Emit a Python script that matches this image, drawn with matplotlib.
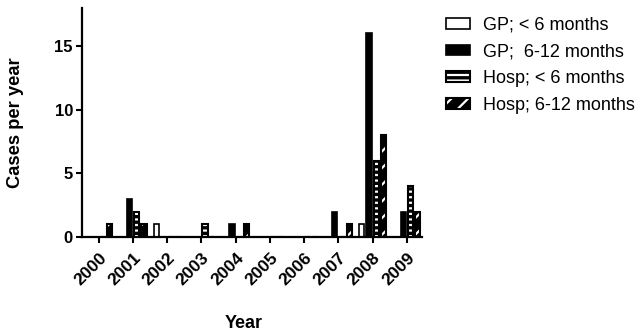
import matplotlib
matplotlib.use("Agg")
import matplotlib.pyplot as plt
import numpy as np
from matplotlib.patches import Patch
from matplotlib.legend_handler import HandlerTuple

plt.rcParams['font.family'] = ['Liberation Sans', 'DejaVu Sans']
plt.rcParams['hatch.linewidth'] = 1.6

years = ['2000', '2001', '2002', '2003', '2004', '2005', '2006', '2007', '2008', '2009']
series_names = ['GP; < 6 months', 'GP;  6-12 months', 'Hosp; < 6 months', 'Hosp; 6-12 months']
gp_lt6 = [0, 0, 1, 0, 0, 0, 0, 0, 1, 0]
gp_6_12 = [0, 3, 0, 0, 1, 0, 0, 2, 16, 2]
hosp_lt6 = [0, 2, 0, 1, 0, 0, 0, 0, 6, 4]
hosp_6_12 = [1, 1, 0, 0, 1, 0, 0, 1, 8, 2]
y_ticks = [0, 5, 10, 15]

series = [gp_lt6, gp_6_12, hosp_lt6, hosp_6_12]
styles = [
    dict(face='white', hatch=None),
    dict(face='black', hatch=None),
    dict(face='black', hatch='---'),
    dict(face='black', hatch='//'),
]

fig = plt.figure(figsize=(6.4, 3.35), dpi=100)
ax = fig.add_axes([82/640, 98/335, 340/640, 229/335])

x = np.arange(len(years))
step = 0.212
width = 0.155
handles = []
for k, (vals, st) in enumerate(zip(series, styles)):
    pos = x + (k - 1.5) * step
    if st['hatch']:
        ax.bar(pos, vals, width, color=st['face'], edgecolor='white', hatch=st['hatch'], linewidth=0, zorder=2)
        ax.bar(pos, vals, width, fill=False, edgecolor='black', linewidth=1.5, zorder=3)
        h = (Patch(facecolor=st['face'], edgecolor='white', hatch=st['hatch'], linewidth=0),
             Patch(fill=False, edgecolor='black', linewidth=1.5))
    else:
        ax.bar(pos, vals, width, color=st['face'], edgecolor='black', linewidth=1.2, zorder=2)
        h = Patch(facecolor=st['face'], edgecolor='black', linewidth=1.2)
    handles.append(h)

ax.set_xlim(-0.49, 9.44)
ax.set_ylim(0, 18)
ax.set_yticks(y_ticks)
ax.set_xticks(x)
ax.set_xticklabels(years, rotation=45, ha='right', rotation_mode='anchor', fontweight='bold', fontsize=12.5)
for lab in ax.get_yticklabels():
    lab.set_fontweight('bold')
    lab.set_fontsize(12)

for s in ['top', 'right']:
    ax.spines[s].set_visible(False)
for s in ['left', 'bottom']:
    ax.spines[s].set_linewidth(1.6)
ax.tick_params(axis='both', direction='out', length=4.5, width=1.5, pad=2)
ax.tick_params(axis='x', pad=5)

ax.set_ylabel('Cases per year', fontsize=13.2, fontweight='bold', va='center')
ax.yaxis.set_label_coords(-0.196, 0.5)
ax.set_xlabel('Year', fontsize=13, fontweight='bold', va='center')
ax.xaxis.set_label_coords(0.474, -0.376)

fig.legend(handles, series_names, loc='upper left', bbox_to_anchor=(446/640, 1 - 17/335),
           frameon=False, fontsize=13, handlelength=1.33, handleheight=0.52,
           handletextpad=0.7, labelspacing=0.53, borderaxespad=0, borderpad=0,
           handler_map={tuple: HandlerTuple(ndivide=1, pad=0)})

fig.savefig('out.png', dpi=100)
